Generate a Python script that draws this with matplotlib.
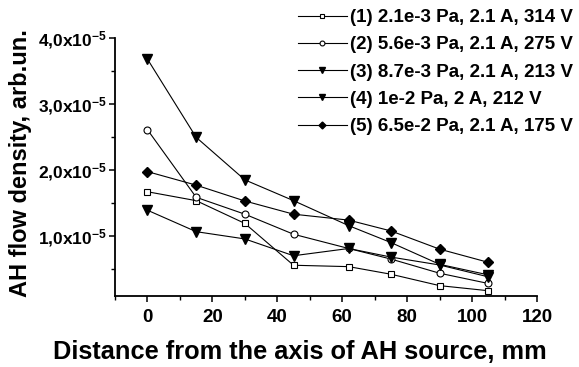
import matplotlib.pyplot as plt
from matplotlib.ticker import MultipleLocator, FuncFormatter

plt.rcParams['font.family'] = ['Liberation Sans', 'DejaVu Sans']
plt.rcParams['font.weight'] = 'bold'
plt.rcParams['mathtext.fontset'] = 'custom'
plt.rcParams['mathtext.rm'] = 'Liberation Sans:bold'
plt.rcParams['mathtext.bf'] = 'Liberation Sans:bold'

distance = [0, 15, 30, 45, 62, 75, 90, 105]
s1 = [1.67, 1.535, 1.19, 0.556, 0.535, 0.42, 0.247, 0.17]
s2 = [2.61, 1.586, 1.33, 1.026, 0.81, 0.65, 0.435, 0.28]
s3 = [3.68, 2.495, 1.85, 1.535, 1.156, 0.90, 0.57, 0.41]
s4 = [1.39, 1.065, 0.955, 0.70, 0.81, 0.68, 0.56, 0.38]
s5 = [1.975, 1.77, 1.53, 1.33, 1.24, 1.076, 0.80, 0.60]
labels = ['(1) 2.1e-3 Pa, 2.1 A, 314 V',
          '(2) 5.6e-3 Pa, 2.1 A, 275 V',
          '(3) 8.7e-3 Pa, 2.1 A, 213 V',
          '(4) 1e-2 Pa, 2 A, 212 V',
          '(5) 6.5e-2 Pa, 2.1 A, 175 V']

fig = plt.figure(figsize=(5.79, 3.67), dpi=100)
ax = fig.add_axes([115 / 579, 71 / 367, 422 / 579, 258 / 367])

scale = 1e-5
ax.plot(distance, [v * scale for v in s1], color='black', lw=0.8, marker='s',
        ms=4.5, mfc='white', mec='black', mew=0.8, label=labels[0])
ax.plot(distance, [v * scale for v in s2], color='black', lw=0.8, marker='o',
        ms=5, mfc='white', mec='black', mew=0.8, label=labels[1])
ax.plot(distance, [v * scale for v in s3], color='black', lw=0.8, marker='v',
        ms=6.5, mfc='black', mec='black', label=labels[2])
ax.plot(distance, [v * scale for v in s4], color='black', lw=0.8, marker='v',
        ms=6.5, mfc='black', mec='black', label=labels[3])
ax.plot(distance, [v * scale for v in s5], color='black', lw=0.8, marker='D',
        ms=5, mfc='black', mec='black', label=labels[4])

ax.set_xlim(-10, 120)
ax.set_ylim(0.09e-5, 4.0e-5)
ax.spines['top'].set_visible(False)
ax.spines['right'].set_visible(False)
ax.spines['left'].set_linewidth(1.3)
ax.spines['bottom'].set_linewidth(1.3)

ax.xaxis.set_major_locator(MultipleLocator(20))
ax.xaxis.set_minor_locator(MultipleLocator(10))
ax.yaxis.set_major_locator(MultipleLocator(1e-5))
ax.yaxis.set_minor_locator(MultipleLocator(0.5e-5))
ax.tick_params(which='major', direction='out', length=4, width=1.1)
ax.tick_params(which='minor', direction='out', length=3, width=1.0)
ax.tick_params(axis='x', labelsize=13.5, pad=5)
ax.tick_params(axis='y', labelsize=12.5, pad=2)


def yfmt(v, pos):
    m = v / 1e-5
    if m < 0.5:
        return ''
    return r'$\mathbf{%d{,}0x10^{-5}}$' % round(m)


ax.yaxis.set_major_formatter(FuncFormatter(yfmt))
for t in ax.get_xticklabels():
    t.set_fontweight('bold')

ax.set_xlabel('Distance from the axis of AH source, mm', fontsize=18.3,
              fontweight='bold')
ax.xaxis.set_label_coords(0.438, -0.172)
ax.set_ylabel('AH flow density, arb.un.', fontsize=17, fontweight='bold')
ax.yaxis.set_label_coords(-0.197, 0.515)

fig.legend(loc='upper left', bbox_to_anchor=(298 / 579, 1 - 9 / 367),
           frameon=False, handlelength=2.6, handletextpad=0.2,
           labelspacing=0.54, markerscale=0.7, borderaxespad=0, borderpad=0,
           prop={'weight': 'bold', 'size': 13.5})

fig.savefig('out.png', dpi=100)
